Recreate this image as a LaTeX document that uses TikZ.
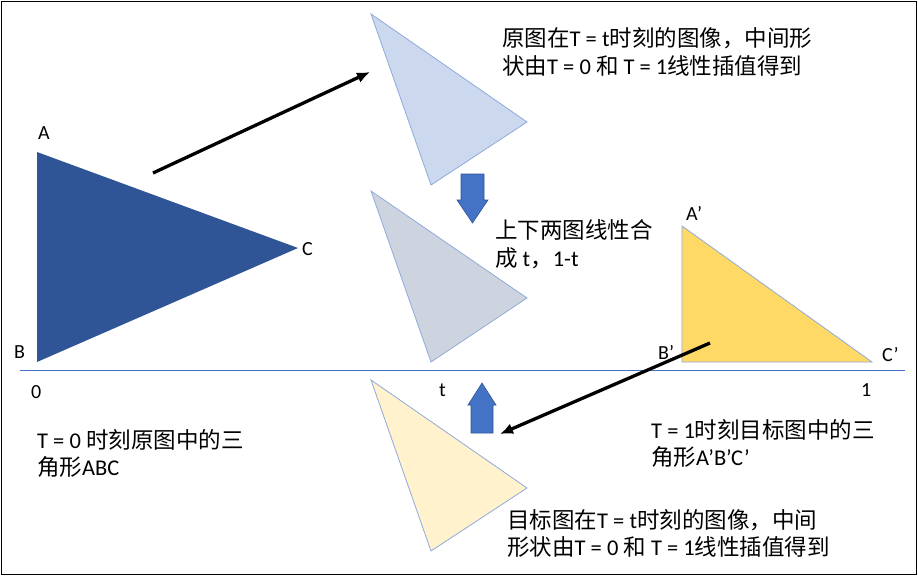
\documentclass[tikz,border=0pt]{standalone}
\usepackage{fontspec}
\setmainfont{Carlito}
\newfontfamily\cjk{Noto Sans CJK SC}
\definecolor{dblue}{HTML}{2F5597}
\definecolor{lblue}{HTML}{4472C4}
\definecolor{edge}{HTML}{8FAADC}
\tikzset{
 lbl/.style={anchor=west,inner sep=0pt,font=\fontsize{20}{24}\selectfont},
 txt/.style={anchor=west,inner sep=0pt,font=\fontsize{22.5}{26}\selectfont},
 tri/.style={draw=edge,line width=0.8pt},
 blk/.style={fill=lblue,draw=dblue,line width=0.6pt},
 arr/.style={-{Latex[length=13pt,width=11pt]},line width=3.3pt,black}
}
\usetikzlibrary{arrows.meta}
\begin{document}
\begin{tikzpicture}[x=1pt,y=-1pt]
\useasboundingbox (0,0) rectangle (918,576);
\draw[line width=1pt] (1,1) rectangle (916,574);
\fill[dblue] (37,152) -- (37,362) -- (298,248) -- cycle;
\draw[lblue,line width=0.8pt] (20,370) coordinate (l0) -- (905,370) coordinate (l1);
\filldraw[tri,fill=lblue!28] (371,14) -- (431,185) -- (527,122) -- cycle;
\filldraw[tri,fill={rgb,255:red,205;green,212;blue,224}] (371,191) -- (431,362) -- (527,298) -- cycle;
\filldraw[tri,fill={rgb,255:red,255;green,242;blue,204}] (371,380) -- (431,551) -- (527,488) -- cycle;
\filldraw[tri,fill={rgb,255:red,255;green,217;blue,102}] (682,226) -- (682,362) -- (872,362) -- cycle;
\node[lbl] (A) at (38,133) {A};
\node[lbl] (B) at (14,352) {B};
\node[lbl] (C) at (302,249) {C};
\node[lbl] (n0) at (31,392) {0};
\node[lbl] (nt) at (439,390) {t};
\node[lbl] (n1) at (861,390) {1};
\node[lbl] (Ap) at (686,213) {A’};
\node[lbl] (Bp) at (658,352) {B’};
\node[lbl] (Cp) at (882,355) {C’};
\coordinate (s1) at (153,173); \coordinate (e1) at (370,72);
\draw[arr] (s1) -- (e1);
\coordinate (s2) at (710,343); \coordinate (e2) at (500,434);
\draw[arr] (s2) -- (e2);
\draw[blk] (461,174) -- (484,174) -- (484,200) -- (488,200) -- (472.5,223) -- (457,200) -- (461,200) -- cycle;
\draw[blk] (471,433) -- (493,433) -- (493,405) -- (496,405) -- (482,383) -- (468,405) -- (471,405) -- cycle;
\node[txt] (t1) at (502,38) {\cjk 原图在\rmfamily T = t\cjk 时刻的图像，中间形};
\node[txt] (t2) at (502,66) {\cjk 状由\rmfamily T = 0 \cjk 和 \rmfamily T = 1\cjk 线性插值得到};
\node[txt] (t3) at (495,230) {\cjk 上下两图线性合};
\node[txt] (t4) at (495,258) {\cjk 成 \rmfamily t\cjk ，\rmfamily 1-t};
\node[txt] (t5) at (651,430) {T = 1\cjk 时刻目标图中的三};
\node[txt] (t6) at (651,457) {\cjk 角形\rmfamily A’B’C’};
\node[txt] (t7) at (37,440) {T = 0 \cjk 时刻原图中的三};
\node[txt] (t8) at (37,467) {\cjk 角形\rmfamily ABC};
\node[txt] (t9) at (507,520) {\cjk 目标图在\rmfamily T = t\cjk 时刻的图像，中间};
\node[txt] (t10) at (507,547) {\cjk 形状由\rmfamily T = 0 \cjk 和 \rmfamily T = 1\cjk 线性插值得到};
\end{tikzpicture}
\end{document}
